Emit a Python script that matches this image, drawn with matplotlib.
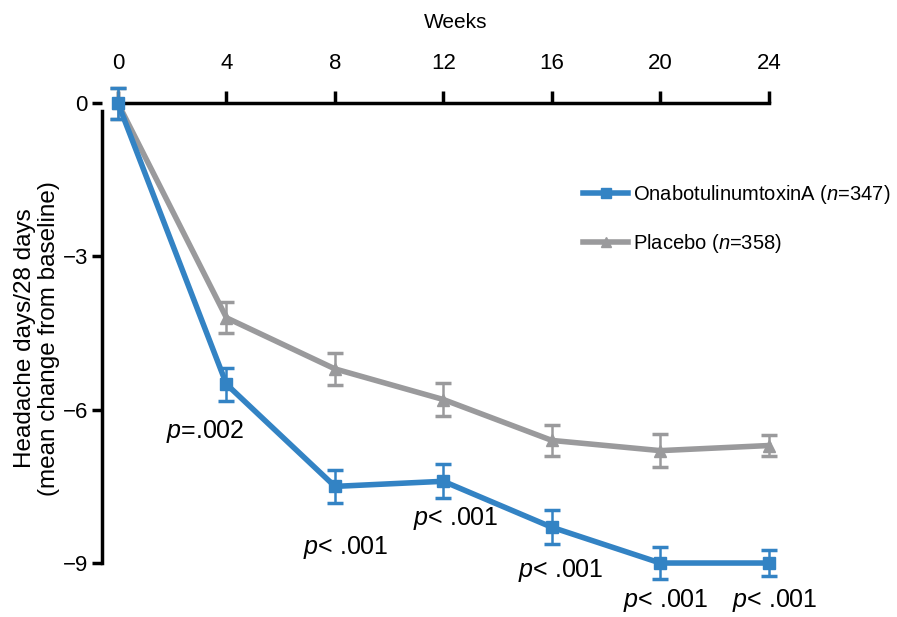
import matplotlib.pyplot as plt
import matplotlib.font_manager as fm

weeks = [0, 4, 8, 12, 16, 20, 24]
botox = [0.0, -5.5, -7.5, -7.4, -8.3, -9.0, -9.0]
botox_err = [0.3, 0.32, 0.33, 0.33, 0.33, 0.32, 0.25]
placebo = [0.0, -4.2, -5.2, -5.8, -6.6, -6.8, -6.7]
placebo_err = [0.3, 0.3, 0.32, 0.33, 0.3, 0.32, 0.2]
p_labels = ["", "=.002", "< .001", "< .001", "< .001", "< .001", "< .001"]
legend_labels = ["OnabotulinumtoxinA ($\\it{n}$=347)", "Placebo ($\\it{n}$=358)"]

names = {f.name for f in fm.fontManager.ttflist}
cond = "Liberation Sans Narrow" if "Liberation Sans Narrow" in names else "Liberation Sans"
plt.rcParams["font.family"] = [cond, "DejaVu Sans"]
plt.rcParams["mathtext.fontset"] = "custom"
plt.rcParams["mathtext.rm"] = cond
plt.rcParams["mathtext.it"] = cond + ":italic"

blue = "#3383c4"
gray = "#9a9a9c"

fig = plt.figure(figsize=(8.97, 6.17), dpi=100)
ax = fig.add_axes([0.1134, 0.0378, 0.789, 0.828])

ax.errorbar(weeks, placebo, yerr=placebo_err, color=gray, lw=4, marker="^", ms=8,
            capsize=6, capthick=2.5, elinewidth=1.8, zorder=2)
ax.errorbar(weeks, botox, yerr=botox_err, color=blue, lw=4, marker="s", ms=8,
            capsize=6, capthick=2.5, elinewidth=1.8, zorder=3)

ax.set_xlim(-0.6, 25.5)
ax.set_ylim(-9.6, 0.4)
ax.spines["right"].set_visible(False)
ax.spines["bottom"].set_visible(False)
ax.spines["top"].set_position(("data", 0))
ax.spines["top"].set_bounds(0, 24)
ax.spines["left"].set_bounds(-9, -0.15)
ax.spines["top"].set_linewidth(2.5)
ax.spines["left"].set_linewidth(2.5)
ax.xaxis.set_ticks_position("top")
ax.xaxis.set_label_position("top")
ax.set_xticks(weeks)
ax.set_yticks([0, -3, -6, -9])
ax.set_yticklabels(["0", "\u22123", "\u22126", "\u22129"])
ax.tick_params(axis="x", direction="out", length=9, width=2.5, labelsize=16, pad=12)
ax.tick_params(axis="y", direction="out", length=7, width=2.5, labelsize=16, pad=3)
ax.set_xlabel("Weeks", fontsize=15, labelpad=18)
ax.set_ylabel("Headache days/28 days\n(mean change from baseline)", fontsize=17.5,
              family=["Liberation Sans", "DejaVu Sans"], labelpad=2, linespacing=1.1)

# label offsets in pixels from each point
offsets = [(0, 0), (-21, -47), (11, -61), (12, -37), (9, -43), (5, -37), (6, -37)]
for x, y, lab, off in zip(weeks, botox, p_labels, offsets):
    if lab:
        ax.annotate("$\\it{p}$" + lab, (x, y), xytext=off, textcoords="offset pixels",
                    ha="center", va="center", fontsize=18)

h = [plt.Line2D([], [], color=blue, lw=4, marker="s", ms=7),
     plt.Line2D([], [], color=gray, lw=4, marker="^", ms=7)]
ax.legend(h, legend_labels, loc="upper left", bbox_to_anchor=(0.655, 0.84),
          frameon=False, fontsize=14.5, handlelength=2.2, labelspacing=1.3,
          handletextpad=0.25)

fig.savefig("out.png", dpi=100)
